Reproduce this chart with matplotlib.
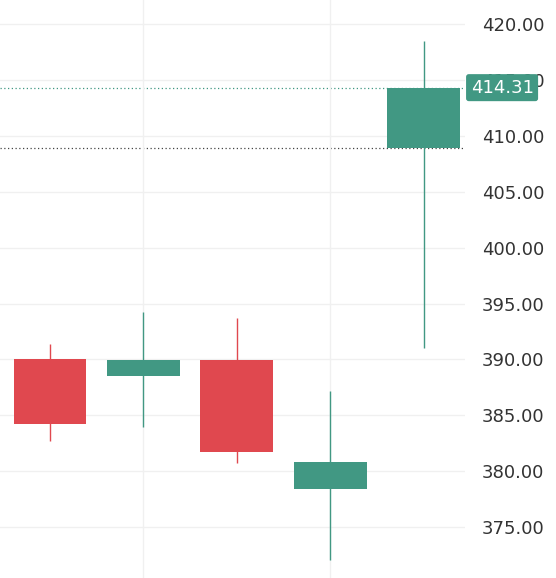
import matplotlib.pyplot as plt

opens = [390.0, 388.5, 389.95, 378.4, 408.9]
closes = [384.2, 389.95, 381.7, 380.8, 414.31]
highs = [391.4, 394.2, 393.7, 387.2, 418.5]
lows = [382.7, 384.0, 380.7, 372.1, 391.0]
yticks = [375, 380, 385, 390, 395, 400, 405, 410, 415, 420]

up_color = "#419883"
down_color = "#e0484f"

fig = plt.figure(figsize=(5.56, 5.78), dpi=100)
ax = fig.add_axes([0, 0, 465 / 556, 1])

for i in range(len(opens)):
    color = up_color if closes[i] >= opens[i] else down_color
    ax.vlines(i, lows[i], highs[i], color=color, linewidth=1, zorder=2)
    bottom = min(opens[i], closes[i])
    ax.bar(i, abs(closes[i] - opens[i]), bottom=bottom, width=0.78,
           color=color, zorder=3)

last = closes[-1]
ax.axhline(last, color=up_color, linestyle=(0, (1, 2)), linewidth=0.9, zorder=1)
ax.axhline(opens[-1], color="#444444", linestyle=(0, (1, 2)), linewidth=0.9, zorder=1)

ax.set_xlim(-0.535, 4.44)
ax.set_ylim(370.45, 422.15)
ax.set_yticks(yticks)
ax.set_yticklabels([f"{v:.2f}" for v in yticks])
ax.set_xticks([1, 3])
ax.set_xticklabels([])
ax.grid(True, color="#f0f0f0", linewidth=1, zorder=0)
ax.yaxis.tick_right()
ax.tick_params(axis="y", length=0, pad=12, labelsize=13, labelcolor="#333333")
ax.tick_params(axis="x", length=0)
for s in ax.spines.values():
    s.set_visible(False)

ax.text(1.012, last, f"{last:.2f}", transform=ax.get_yaxis_transform(),
        ha="left", va="center", fontsize=13, color="white",
        bbox=dict(boxstyle="round,pad=0.25,rounding_size=0.15",
                  fc=up_color, ec="none"))

fig.savefig("out.png", dpi=100)
